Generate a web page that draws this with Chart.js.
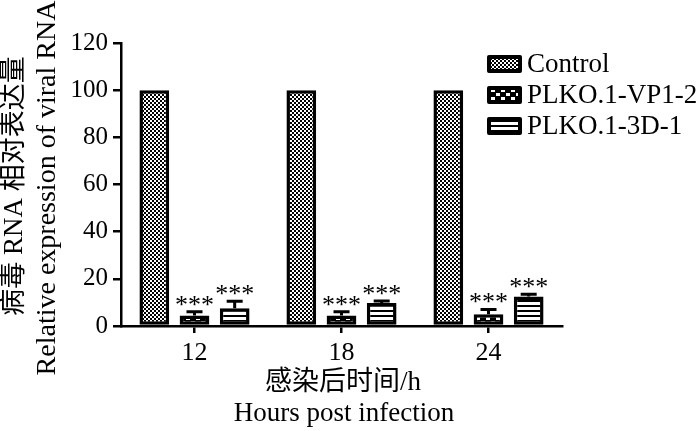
<!DOCTYPE html>
<html>
<head>
<meta charset="utf-8">
<script src="https://cdn.jsdelivr.net/npm/chart.js@4/dist/chart.umd.min.js"></script>
<style>
    html, body { margin: 0; padding: 0; background: #fff; }
    #wrap { width: 700px; height: 431px; }
</style>
</head>
<body>
<div id="wrap"><canvas id="myChart" width="700" height="431"></canvas></div>
<script>
const groups = ['12', '18', '24'];
const seriesNames = ['Control', 'PLKO.1-VP1-2', 'PLKO.1-3D-1'];
const controlValues = [100, 100, 100];
const vp1Values = [4.5, 4.5, 5];
const d3Values = [7.5, 9.8, 12.5];
const controlErr = [0, 0, 0];
const vp1Err = [1.5, 1.5, 2];
const d3Err = [3, 0.8, 1];
const starLabels = ['***', '***', '***'];
const yTicks = [0, 20, 40, 60, 80, 100, 120];
const yTitleCn = '病毒 RNA 相对表达量';
const yTitleEn = 'Relative expression of viral RNA';
const xTitleCn = '感染后时间/h';
const xTitleEn = 'Hours post infection';

const serif = "'Liberation Serif', 'Noto Sans CJK SC', serif";

function makePattern(kind) {
    const c = document.createElement('canvas');
    const ctx = c.getContext('2d');
    if (kind === 'fine') {
        c.width = 4; c.height = 4;
        ctx.fillStyle = '#fff'; ctx.fillRect(0, 0, 4, 4);
        ctx.fillStyle = '#000';
        ctx.fillRect(0, 0, 2, 2); ctx.fillRect(2, 2, 2, 2);
    } else if (kind === 'block') {
        c.width = 10; c.height = 8;
        ctx.fillStyle = '#000'; ctx.fillRect(0, 0, 10, 8);
        ctx.fillStyle = '#fff';
        ctx.fillRect(1, 1, 4, 3); ctx.fillRect(6, 5, 4, 3);
    } else {
        c.width = 4; c.height = 5;
        ctx.fillStyle = '#fff'; ctx.fillRect(0, 0, 4, 5);
        ctx.fillStyle = '#000'; ctx.fillRect(0, 0, 4, 2);
    }
    return document.createElement('canvas').getContext('2d').createPattern(c, 'repeat');
}

const patterns = [makePattern('fine'), makePattern('block'), makePattern('stripe')];
const errors = [controlErr, vp1Err, d3Err];
const stars = [null, starLabels, starLabels];

const extrasPlugin = {
    id: 'extras',
    afterDatasetsDraw(chart) {
        const ctx = chart.ctx;
        const y = chart.scales.y;
        ctx.save();
        chart.data.datasets.forEach((ds, di) => {
            const meta = chart.getDatasetMeta(di);
            meta.data.forEach((bar, i) => {
                const v = ds.data[i];
                const e = errors[di][i];
                const top = y.getPixelForValue(v + e);
                const base = y.getPixelForValue(v);
                if (e > 0) {
                    ctx.strokeStyle = '#000';
                    ctx.lineWidth = 3;
                    ctx.beginPath();
                    ctx.moveTo(bar.x, base);
                    ctx.lineTo(bar.x, top);
                    ctx.moveTo(bar.x - 8, top);
                    ctx.lineTo(bar.x + 8, top);
                    ctx.stroke();
                }
                if (stars[di]) {
                    // one glyph at a time, the stars sit close together
                    ctx.fillStyle = '#000';
                    ctx.font = '26px ' + serif;
                    ctx.textAlign = 'center';
                    ctx.textBaseline = 'alphabetic';
                    const n = stars[di][i].length;
                    for (let k = 0; k < n; k++) {
                        ctx.fillText('*', bar.x + (k - (n - 1) / 2) * 13, top + 1);
                    }
                }
            });
        });
        ctx.restore();
    },
    afterDraw(chart) {
        const ctx = chart.ctx;
        ctx.save();
        // legend
        const legendY = [64, 95, 126];
        seriesNames.forEach((name, i) => {
            ctx.fillStyle = patterns[i];
            ctx.fillRect(489, legendY[i] - 7, 31, 14);
            ctx.strokeStyle = '#000';
            ctx.lineWidth = 4;
            ctx.lineJoin = 'round';
            ctx.strokeRect(489, legendY[i] - 7, 31, 14);
            ctx.fillStyle = '#000';
            ctx.font = '27px ' + serif;
            ctx.textAlign = 'left';
            ctx.textBaseline = 'middle';
            ctx.fillText(name, 527, legendY[i] + 1);
        });
        // axis titles
        ctx.fillStyle = '#000';
        ctx.textAlign = 'center';
        ctx.textBaseline = 'middle';
        ctx.font = '27px ' + serif;
        ctx.fillText(xTitleCn, 343, 383);
        ctx.textBaseline = 'alphabetic';
        ctx.fillText(xTitleEn, 344, 421);
        ctx.save();
        ctx.translate(22, 186);
        ctx.rotate(-Math.PI / 2);
        ctx.font = '27px ' + serif;
        ctx.fillText(yTitleCn, 0, 0);
        ctx.restore();
        ctx.save();
        ctx.translate(55, 188);
        ctx.rotate(-Math.PI / 2);
        ctx.font = '28px ' + serif;
        ctx.fillText(yTitleEn, 0, 0);
        ctx.restore();
        ctx.restore();
    }
};

const barStyle = {
    borderColor: '#000',
    borderWidth: 3.5,
    borderSkipped: false,
    categoryPercentage: 0.82,
    barPercentage: 0.74
};

new Chart(document.getElementById('myChart'), {
    type: 'bar',
    data: {
        labels: groups,
        datasets: [
            { label: seriesNames[0], data: controlValues, backgroundColor: patterns[0], ...barStyle },
            { label: seriesNames[1], data: vp1Values, backgroundColor: patterns[1], ...barStyle },
            { label: seriesNames[2], data: d3Values, backgroundColor: patterns[2], ...barStyle }
        ]
    },
    options: {
        responsive: false,
        animation: false,
        layout: { padding: { left: 0, right: 138, top: 43, bottom: 0 } },
        scales: {
            x: {
                afterFit: s => { s.height = 105; },
                grid: { display: true, drawOnChartArea: false, offset: false, tickLength: 7, color: '#000', lineWidth: 2.5 },
                border: { display: true, color: '#000', width: 2.5 },
                ticks: { color: '#000', font: { family: serif, size: 26 }, padding: 5 }
            },
            y: {
                min: 0,
                max: 120,
                afterFit: s => { s.width = 121; },
                afterBuildTicks: s => { s.ticks = yTicks.map(v => ({ value: v })); },
                grid: { display: true, drawOnChartArea: false, tickLength: 8, color: '#000', lineWidth: 2.5 },
                border: { display: true, color: '#000', width: 2.5 },
                ticks: { color: '#000', font: { family: serif, size: 25 }, padding: 5 }
            }
        },
        plugins: {
            legend: { display: false },
            tooltip: { enabled: false }
        }
    },
    plugins: [extrasPlugin]
});
</script>
</body>
</html>
